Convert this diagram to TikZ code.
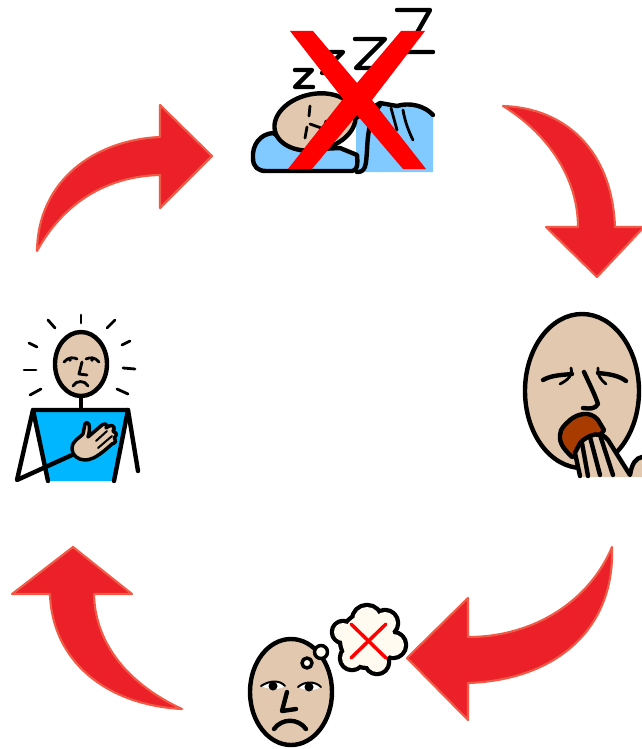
\documentclass[tikz,border=0pt]{standalone}
\usepackage{tikz}

\definecolor{arrowred}{RGB}{236,32,41}
\definecolor{arrowedge}{RGB}{241,90,70}
\definecolor{skin}{RGB}{226,200,174}
\definecolor{sheetblue}{RGB}{128,202,255}
\definecolor{shirtblue}{RGB}{0,183,255}
\definecolor{cloudcream}{RGB}{255,251,240}
\definecolor{mouthbrown}{RGB}{168,60,0}
\definecolor{crossred}{RGB}{255,0,0}

\begin{document}
\begin{tikzpicture}[
    x=0.75pt, y=-0.75pt,
    line cap=round, line join=round,
    bigarrow/.style={fill=arrowred, draw=arrowedge, line width=1.6pt},
    ink/.style={draw=black, line width=3.3pt},
    thin ink/.style={draw=black, line width=2.1pt},
    fine ink/.style={draw=black, line width=1.5pt},
    facefill/.style={fill=skin, draw=black, line width=3.3pt},
]
\useasboundingbox (0,0) rectangle (642,749);
\clip (0,0) rectangle (642,749);

% ============================================================
% Arrows
% ============================================================
\draw[bigarrow] (37,251) .. controls (38,180) and (95,140) .. (160,137)
    -- (160,105) -- (212,156) -- (160,208) -- (160,175)
    .. controls (110,176) and (65,200) .. (37,251) -- cycle;

\draw[bigarrow] (503,106) .. controls (565,108) and (612,150) .. (615,227)
    -- (644,227) -- (597,277) -- (546,227) -- (578,227)
    .. controls (578,180) and (550,135) .. (503,106) -- cycle;

\draw[bigarrow] (612,547) .. controls (590,600) and (535,637) .. (468,637)
    -- (468,598) -- (407,658) -- (468,720) -- (468,683)
    .. controls (555,680) and (615,630) .. (612,547) -- cycle;

\draw[bigarrow] (182,709) .. controls (105,705) and (52,660) .. (50,594)
    -- (12,594) -- (73,547) -- (132,594) -- (94,594)
    .. controls (95,645) and (130,685) .. (182,709) -- cycle;

% ============================================================
% Sleeper, crossed out
% ============================================================
\fill[sheetblue] (356,112) -- (380,103) -- (397,106) .. controls (410,102) and (425,106) .. (433,115)
    -- (433,172) -- (356,172) -- cycle;
\draw[ink, fill=sheetblue] (273,133) .. controls (260,134) and (252,145) .. (253,158)
    .. controls (253,167) and (258,171) .. (266,171) -- (352,171)
    .. controls (357,171) and (358,165) .. (357,155) -- (340,148) -- (300,150) -- cycle;
\draw[facefill, rotate around={12:(315,122)}] (315,122) ellipse [x radius=41, y radius=28];
\draw[ink] (397,106) .. controls (410,102) and (425,106) .. (433,115);
\draw[ink] (356,118) -- (380,103) -- (397,106);
\draw[ink] (357,172) .. controls (366,172) and (366,165) .. (367,150) .. controls (368,130) and (370,118) .. (380,105);
\draw[thin ink] (391,108) -- (397,130);
\draw[thin ink] (403,110) .. controls (405,122) and (409,132) .. (413,140);
\draw[thin ink] (310,106) -- (309,116);
\draw[thin ink] (307,127) -- (305,138);
\draw[thin ink] (310,124) -- (324,129) -- (326,121);
% the letters z
\draw[ink] (295,70) -- (312,70) -- (295,87) -- (313,87);
\draw[ink] (330,52) -- (343,52) -- (322,73) -- (335,73);
\draw[ink] (355,39) -- (385,39) -- (356,68) -- (380,68);
\draw[ink] (397,10) -- (430,10) -- (406,52) -- (433,52);
\fill[crossred] (290,31) -- (313,31) -- (357,83) -- (401,31) -- (425,31) -- (372,100)
    -- (426,169) -- (403,169) -- (357,115) -- (312,169) -- (288,169) -- (343,99) -- cycle;

% ============================================================
% Yawning face
% ============================================================
\draw[facefill] (582,391) ellipse [x radius=57, y radius=77];
\draw[ink] (543,380) .. controls (552,375) and (562,375) .. (572,374);
\draw[thin ink] (571,368) .. controls (573,375) and (568,380) .. (560,384);
\draw[ink] (626,381) .. controls (618,375) and (608,374) .. (598,373);
\draw[thin ink] (598,368) .. controls (597,375) and (601,380) .. (606,384);
\draw[ink] (584,372) .. controls (590,385) and (595,395) .. (598,404) .. controls (595,409) and (590,409) .. (583,408);
\draw[ink, fill=mouthbrown] (560,435) .. controls (560,428) and (566,424) .. (570,420)
    .. controls (577,414) and (590,410) .. (598,420) -- (604,430)
    -- (590,450) -- (572,457) .. controls (565,450) and (559,444) .. (560,435) -- cycle;
\fill[skin] (580,477) -- (575,453) -- (578,447) .. controls (580,441) and (586,438) .. (590,436)
    .. controls (596,433) and (604,434) .. (608,440) -- (630,475)
    .. controls (632,463) and (636,458) .. (642,457) -- (642,477) -- cycle;
\draw[ink] (580,476) -- (575,453) -- (578,447) .. controls (580,441) and (586,438) .. (590,436)
    .. controls (596,433) and (604,434) .. (608,440) -- (630,475)
    .. controls (632,463) and (636,458) .. (642,457);
\draw[ink] (582,443) -- (588,476);
\draw[ink] (590,437) -- (600,475);
\draw[ink] (600,435) -- (613,475);

% ============================================================
% Thinking face
% ============================================================
\draw[facefill] (291,692) ellipse [x radius=41, y radius=53];
\fill[white] (261,686) .. controls (270,680) and (280,680) .. (285,686) .. controls (280,690) and (270,690) .. (261,686) -- cycle;
\fill[white] (298,687) .. controls (305,681) and (315,681) .. (321,687) .. controls (315,691) and (305,691) .. (298,687) -- cycle;
\draw[fine ink] (261,686) .. controls (270,680) and (280,680) .. (285,686);
\draw[fine ink] (298,687) .. controls (305,681) and (315,681) .. (321,687);
\fill (273,686) circle [radius=4.5];
\fill (309,687) circle [radius=4.5];
\draw[ink] (287,692) -- (282,711) -- (296,709);
\draw[ink] (274,729) .. controls (282,718) and (298,718) .. (306,729);
\draw[thin ink, line width=2.6pt, fill=cloudcream] (307,663) circle [radius=5];
\draw[thin ink, line width=2.6pt, fill=cloudcream] (321,652) circle [radius=6.5];
\foreach \cx/\cy/\cr in {367/620/13, 385/623/11, 393/645/11, 377/662/10, 352/658/10, 343/632/9, 368/640/26}
    \draw[draw=black, line width=6.4pt] (\cx,\cy) circle [radius=\cr];
\foreach \cx/\cy/\cr in {367/620/13, 385/623/11, 393/645/11, 377/662/10, 352/658/10, 343/632/9, 368/640/26}
    \fill[cloudcream] (\cx,\cy) circle [radius=\cr];
\draw[crossred, line width=2.6pt] (351,624) -- (386,658);
\draw[crossred, line width=2.6pt] (351,658) -- (386,624);

% ============================================================
% Man with hand on chest
% ============================================================
\fill[shirtblue] (33,410) -- (128,410) -- (114,481) -- (48,481) -- cycle;
\draw[ink] (48,481) -- (33,410) -- (128,410) -- (114,481);
\draw[ink] (128,410) -- (138,471);
\draw[ink] (33,410) -- (17,480) -- (72,455);
\draw[ink] (81,396) -- (81,409);
\draw[facefill] (81,364) ellipse [x radius=26, y radius=32];
\draw[thin ink] (64,362) .. controls (68,357) and (74,357) .. (77,359);
\draw[thin ink] (86,359) .. controls (90,357) and (95,357) .. (99,362);
\fill (70,360) circle [radius=1.8];
\fill (92,360) circle [radius=1.8];
\draw[thin ink] (82,362) -- (79,374) -- (87,375);
\draw[thin ink] (73,386) .. controls (76,380) and (85,380) .. (88,386);
\draw[thin ink] (81,315) -- (81,323);
\draw[thin ink] (48,320) -- (55,328);
\draw[thin ink] (107,328) -- (115,320);
\draw[thin ink] (29,343) -- (37,347);
\draw[thin ink] (122,345) -- (130,341);
\draw[thin ink] (24,370) -- (36,370);
\draw[thin ink] (123,368) -- (135,369);
\draw[thin ink] (30,395) -- (41,389);
\draw[thin ink] (117,389) -- (128,394);
\draw[thin ink, line width=2.6pt, fill=skin] (72,449) .. controls (72,440) and (80,438) .. (83,434)
    -- (85,424) .. controls (87,420) and (92,424) .. (88,437)
    -- (102,425) .. controls (106,422) and (108,426) .. (106,428)
    -- (109,426) .. controls (113,424) and (116,428) .. (113,431)
    -- (114,432) .. controls (117,432) and (117,436) .. (114,438)
    -- (115,439) .. controls (117,441) and (115,443) .. (112,444)
    .. controls (105,450) and (95,460) .. (85,460) .. controls (78,460) and (72,455) .. (72,449) -- cycle;
\draw[fine ink] (96,441) -- (107,431);
\draw[fine ink] (98,448) -- (112,436);
\end{tikzpicture}
\end{document}
